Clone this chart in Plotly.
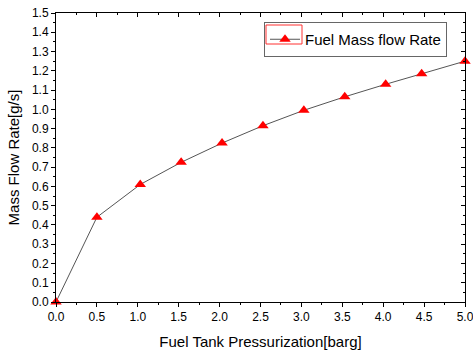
import plotly.graph_objects as go

pressure = [0.0, 0.5, 1.03, 1.53, 2.03, 2.53, 3.03, 3.53, 4.03, 4.47, 5.0]
mass_flow = [0.0, 0.44, 0.61, 0.725, 0.825, 0.915, 0.995, 1.065, 1.13, 1.185, 1.25]

font_family = "Liberation Sans, Arial, sans-serif"

fig = go.Figure()
fig.add_trace(go.Scatter(
    x=pressure, y=mass_flow, mode="lines+markers", name="Fuel Mass flow Rate",
    line=dict(color="#555555", width=1),
    marker=dict(symbol="triangle-up", size=10, color="#ff0000"),
    cliponaxis=False,
))
fig.add_trace(go.Scatter(x=[None], y=[None], xaxis="x2", yaxis="y2", showlegend=False, hoverinfo="skip"))

axis_common = dict(showgrid=False, zeroline=False, showline=True, linecolor="black", linewidth=1,
                   tickcolor="black", ticklen=4, tickwidth=1, automargin=False,
                   ticklabeloverflow="allow",
                   tickfont=dict(family=font_family, size=12, color="black"))

L, R, T, B, W, H = 56, 8, 13, 48, 473, 350
pw, ph = W - L - R, H - T - B

def px_x(p):
    return (p - L) / pw

def px_y(p):
    return (H - B - p) / ph

fig.update_layout(
    width=W, height=H,
    margin=dict(l=L, r=R, t=T, b=B),
    paper_bgcolor="white", plot_bgcolor="white",
    font=dict(family=font_family, color="black"),
    xaxis=dict(range=[0, 5], dtick=0.5, tickformat=".1f", ticks="outside",
               minor=dict(ticks="outside", ticklen=2, dtick=0.25, tickcolor="black"),
               title=dict(text="Fuel Tank Pressurization[barg]", font=dict(size=15), standoff=14),
               **axis_common),
    yaxis=dict(range=[0, 1.5], dtick=0.1, tickformat=".1f", ticks="outside",
               minor=dict(ticks="outside", ticklen=2, dtick=0.05, tickcolor="black"),
               title=dict(text="Mass Flow Rate[g/s]", font=dict(size=15), standoff=8),
               **axis_common),
    xaxis2=dict(range=[0, 5], dtick=0.5, overlaying="x", side="top", anchor="y2", ticks="inside",
                showticklabels=False,
                minor=dict(ticks="inside", ticklen=2, dtick=0.25, tickcolor="black"),
                **axis_common),
    yaxis2=dict(range=[0, 1.5], dtick=0.1, overlaying="y", side="right", anchor="x2", ticks="inside",
                showticklabels=False,
                minor=dict(ticks="inside", ticklen=2, dtick=0.05, tickcolor="black"),
                **axis_common),
    legend=dict(x=px_x(264), y=px_y(22), xanchor="left", yanchor="top",
                bgcolor="rgba(0,0,0,0)", bordercolor="#666666", borderwidth=1,
                font=dict(family=font_family, size=15, color="black"),
                itemwidth=30, tracegroupgap=0),
    showlegend=True,
    shapes=[dict(type="rect", xref="paper", yref="paper",
                 x0=px_x(266), x1=px_x(302), y0=px_y(44), y1=px_y(25),
                 line=dict(color="#ff3030", width=1), layer="above")],
)

fig.write_html("out.html")
